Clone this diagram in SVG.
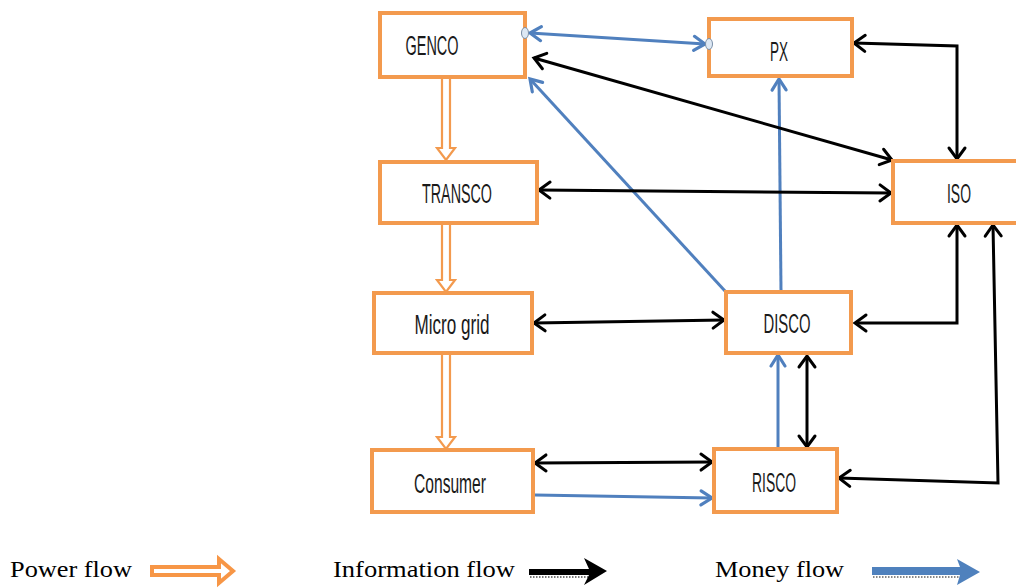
<svg xmlns="http://www.w3.org/2000/svg" width="1016" height="588" viewBox="0 0 1016 588">
<defs>
<style>
.box{fill:#fff;stroke:#F39A4E;stroke-width:4}
.lbl{font-family:"Liberation Sans",Arial,sans-serif;font-size:27px;fill:#1a1a1a;text-anchor:middle}
.leg{font-family:"Liberation Serif","Times New Roman",serif;font-size:24px;fill:#000}
.blk{fill:none;stroke:#000;stroke-width:3}
.blu{fill:none;stroke:#5080BE;stroke-width:3}
.pwr{fill:#fff;stroke:#F39A4E;stroke-width:2.2}
</style>
<marker id="ak" viewBox="-14 -11 18 22" markerWidth="18" markerHeight="22" refX="0" refY="0" orient="auto-start-reverse" markerUnits="userSpaceOnUse">
<path d="M-11,-8 L0,0 L-11,8" fill="none" stroke="#000" stroke-width="3" stroke-linecap="round"/>
</marker>
<marker id="ab" viewBox="-14 -11 18 22" markerWidth="18" markerHeight="22" refX="0" refY="0" orient="auto-start-reverse" markerUnits="userSpaceOnUse">
<path d="M-11,-7 L0,0 L-11,7" fill="none" stroke="#5080BE" stroke-width="3.2" stroke-linecap="round"/>
</marker>
</defs>
<rect width="1016" height="588" fill="#fff"/>

<g id="connectors">
<!-- power flow -->
<path class="pwr" d="M442,79 V148 H437 L446,160 L455,148 H450 V79"/>
<path class="pwr" d="M442,225 V280 H437 L446,292 L455,280 H450 V225"/>
<path class="pwr" d="M442,355 V437 H437 L446,449 L455,437 H450 V355"/>
<!-- money flow -->
<line class="blu" x1="530" y1="33" x2="705" y2="44" stroke-width="3.5" marker-start="url(#ab)" marker-end="url(#ab)"/>
<line class="blu" x1="725" y1="291" x2="530" y2="79" marker-end="url(#ab)"/>
<line class="blu" x1="781" y1="291" x2="779" y2="79" marker-end="url(#ab)"/>
<line class="blu" x1="778" y1="448" x2="778" y2="355" marker-end="url(#ab)"/>
<line class="blu" x1="535" y1="495" x2="712" y2="498" marker-end="url(#ab)"/>
<!-- information flow -->
<line class="blk" x1="534" y1="58" x2="892" y2="160" marker-start="url(#ak)" marker-end="url(#ak)"/>
<polyline class="blk" points="854,43 957,46 957,159" marker-start="url(#ak)" marker-end="url(#ak)"/>
<line class="blk" x1="539" y1="190" x2="891" y2="193" marker-start="url(#ak)" marker-end="url(#ak)"/>
<line class="blk" x1="534" y1="323" x2="724" y2="320" marker-start="url(#ak)" marker-end="url(#ak)"/>
<polyline class="blk" points="957,225 957,323 855,323" marker-start="url(#ak)" marker-end="url(#ak)"/>
<polyline class="blk" points="993,225 998,483 839,478" marker-start="url(#ak)" marker-end="url(#ak)"/>
<line class="blk" x1="807" y1="356" x2="807" y2="447" marker-start="url(#ak)" marker-end="url(#ak)"/>
<line class="blk" x1="535" y1="463" x2="712" y2="462" marker-start="url(#ak)" marker-end="url(#ak)"/>
</g>

<g id="genco"><rect class="box" x="380" y="13" width="145" height="64"/><text class="lbl" x="432" y="55" textLength="53" lengthAdjust="spacingAndGlyphs">GENCO</text></g>
<g id="px"><rect class="box" x="709" y="19" width="143" height="57"/><text class="lbl" x="779" y="61" textLength="18" lengthAdjust="spacingAndGlyphs">PX</text></g>
<g id="iso"><rect class="box" x="893" y="161" width="127" height="62"/><text class="lbl" x="959" y="203" textLength="24" lengthAdjust="spacingAndGlyphs">ISO</text></g>
<g id="transco"><rect class="box" x="380" y="162" width="157" height="61"/><text class="lbl" x="457" y="203" textLength="70" lengthAdjust="spacingAndGlyphs">TRANSCO</text></g>
<g id="microgrid"><rect class="box" x="374" y="293" width="158" height="60"/><text class="lbl" x="452" y="334" textLength="75" lengthAdjust="spacingAndGlyphs">Micro grid</text></g>
<g id="disco"><rect class="box" x="726" y="292" width="125" height="61"/><text class="lbl" x="787" y="333" textLength="47" lengthAdjust="spacingAndGlyphs">DISCO</text></g>
<g id="risco"><rect class="box" x="714" y="449" width="123" height="63"/><text class="lbl" x="774" y="492" textLength="44" lengthAdjust="spacingAndGlyphs">RISCO</text></g>
<g id="consumer"><rect class="box" x="372" y="450" width="161" height="62"/><text class="lbl" x="450" y="493" textLength="72" lengthAdjust="spacingAndGlyphs">Consumer</text></g>

<g id="endpoints">
<ellipse cx="525" cy="33" rx="3.5" ry="5.5" fill="#DDE8F4" stroke="#7a8fa8" stroke-width="1"/>
<ellipse cx="709" cy="44" rx="3.5" ry="5.5" fill="#DDE8F4" stroke="#7a8fa8" stroke-width="1"/>
</g>

<g id="legend">
<text class="leg" x="10" y="577" textLength="122" lengthAdjust="spacingAndGlyphs">Power flow</text>
<path d="M152,567 H219 V559 L233,571 L219,583 V575 H152 Z" fill="#fff" stroke="#F79646" stroke-width="4" stroke-linejoin="miter"/>
<text class="leg" x="333" y="577" textLength="182" lengthAdjust="spacingAndGlyphs">Information flow</text>
<line x1="530" y1="577" x2="590" y2="577" stroke="#777" stroke-width="2" stroke-dasharray="1.5,1.5"/>
<path d="M529,569 H589 L584,558 L607,571 L584,585 L589,575 H529 Z" fill="#000"/>
<text class="leg" x="715" y="577" textLength="129" lengthAdjust="spacingAndGlyphs">Money flow</text>
<line x1="873" y1="577" x2="962" y2="577" stroke="#888" stroke-width="2" stroke-dasharray="1.5,1.5"/>
<path d="M872,567 H960 L957,559 L980,572 L957,585 L960,575 H872 Z" fill="#4F81BD"/>
</g>
</svg>
